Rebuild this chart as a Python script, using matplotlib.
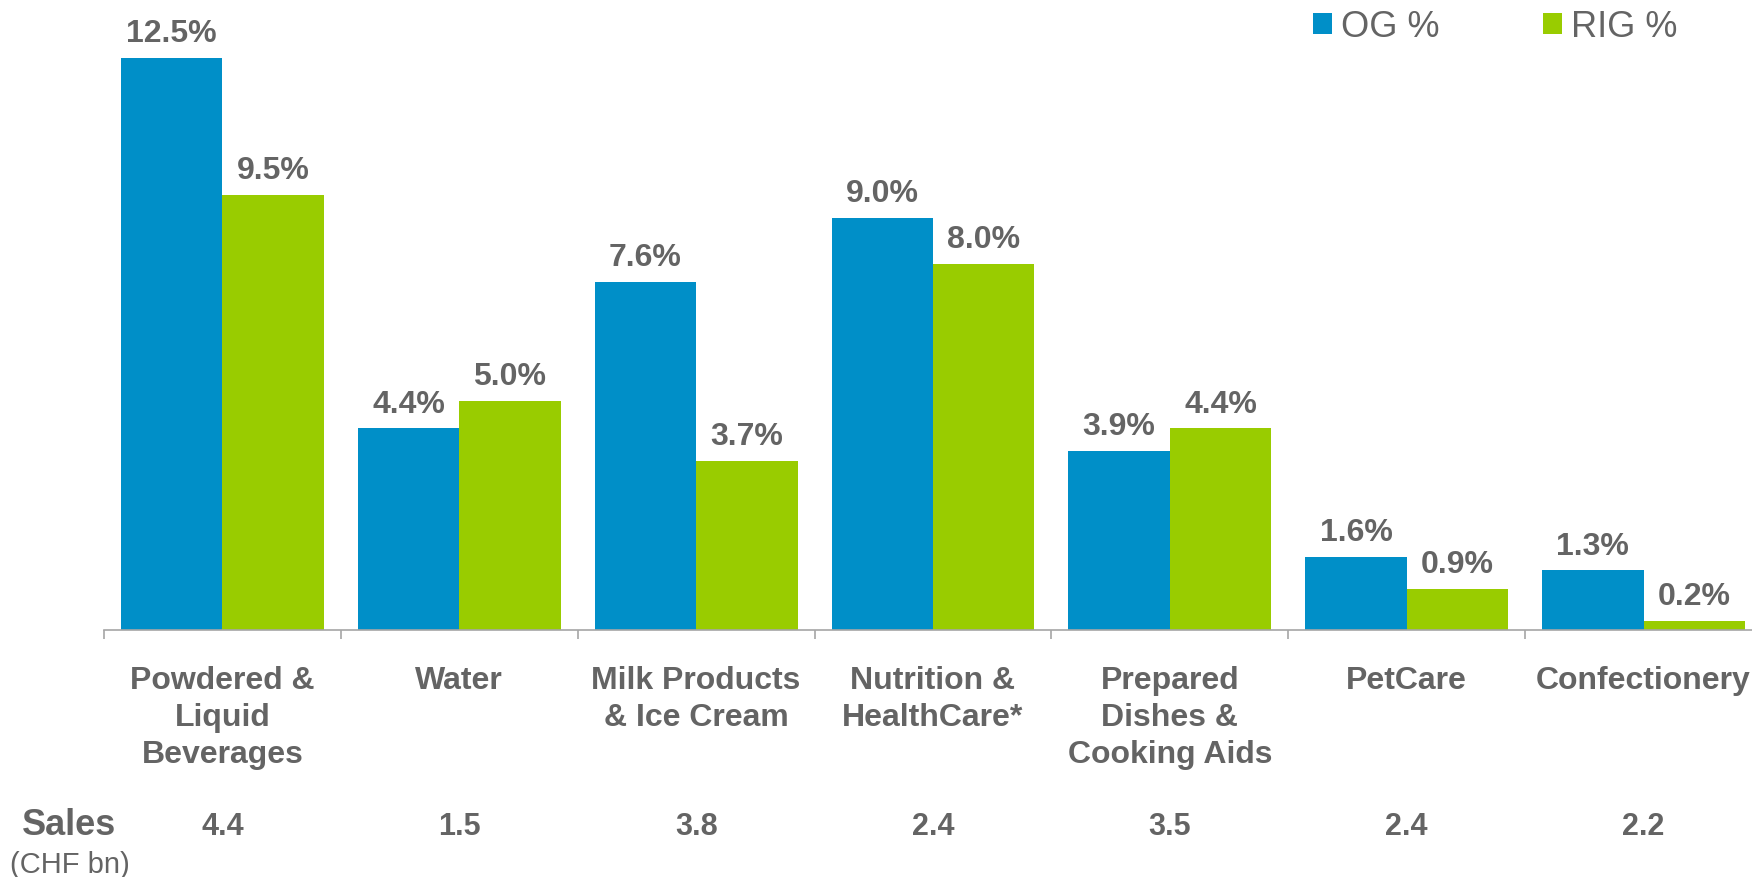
import matplotlib
matplotlib.use("Agg")
import matplotlib.pyplot as plt
import matplotlib.transforms as mtransforms
import numpy as np

plt.rcParams['font.family'] = ['Liberation Sans', 'DejaVu Sans']

categories = ["Powdered &\nLiquid\nBeverages", "Water", "Milk Products\n& Ice Cream",
              "Nutrition &\nHealthCare*", "Prepared\nDishes &\nCooking Aids", "PetCare",
              "Confectionery"]
og = [12.5, 4.4, 7.6, 9.0, 3.9, 1.6, 1.3]
rig = [9.5, 5.0, 3.7, 8.0, 4.4, 0.9, 0.2]
sales = ["4.4", "1.5", "3.8", "2.4", "3.5", "2.4", "2.2"]
series_names = ["OG %", "RIG %"]

BLUE = "#008FC8"
GREEN = "#99CC00"
TEXT = "#646464"
AXIS = "#A6A6A6"

W, H = 1752, 878
fig = plt.figure(figsize=(W / 100, H / 100), dpi=100)
ax = fig.add_axes([104 / W, 247 / H, 1658 / W, 631 / H])

x = np.arange(len(categories))
bw = 0.428
b1 = ax.bar(x - bw / 2, og, width=bw, color=BLUE, label=series_names[0])
b2 = ax.bar(x + bw / 2, rig, width=bw, color=GREEN, label=series_names[1])

ax.set_xlim(-0.5, len(categories) - 0.5)
ax.set_ylim(0, 631 / 45.8)

for bars, vals in ((b1, og), (b2, rig)):
    for rect, v in zip(bars, vals):
        ax.annotate(f"{v:.1f}%", (rect.get_x() + rect.get_width() / 2, v),
                    xytext=(0, 12.2), textcoords="offset points",
                    ha="center", va="baseline", fontsize=23, fontweight="bold", color=TEXT)

for s in ("top", "left", "right"):
    ax.spines[s].set_visible(False)
ax.spines["bottom"].set_color(AXIS)
ax.spines["bottom"].set_linewidth(1.2)
ax.set_yticks([])

ax.set_xticks(x)
ax.set_xticklabels(categories, fontsize=23, fontweight="bold", color=TEXT, linespacing=1.3)
ax.tick_params(axis="x", which="major", length=0, pad=25)
ax.set_xticks(np.arange(-0.5, len(categories)), minor=True)
ax.tick_params(axis="x", which="minor", length=6.5, width=1.2, color=AXIS, direction="out")

trans = mtransforms.blended_transform_factory(ax.transData, fig.transFigure)
for xi, s in zip(x, sales):
    ax.text(xi, 43 / H, s, transform=trans, ha="center", va="baseline",
            fontsize=22, fontweight="bold", color=TEXT)

fig.text(69.5 / W, 43 / H, "Sales", ha="center", va="baseline",
         fontsize=26, fontweight="bold", color=TEXT)
fig.text(69.5 / W, 5 / H, "(CHF bn)", ha="center", va="baseline",
         fontsize=21, color=TEXT)

leg = fig.legend(handles=[b1, b2], labels=series_names, loc="upper left",
                 bbox_to_anchor=(1313 / W, 1 - 10 / H), ncol=2, frameon=False,
                 fontsize=26, handlelength=0.53, handleheight=0.53,
                 handletextpad=0.25, columnspacing=2.85, borderpad=0, borderaxespad=0)
for t in leg.get_texts():
    t.set_color(TEXT)

fig.savefig("out.png", dpi=100)
